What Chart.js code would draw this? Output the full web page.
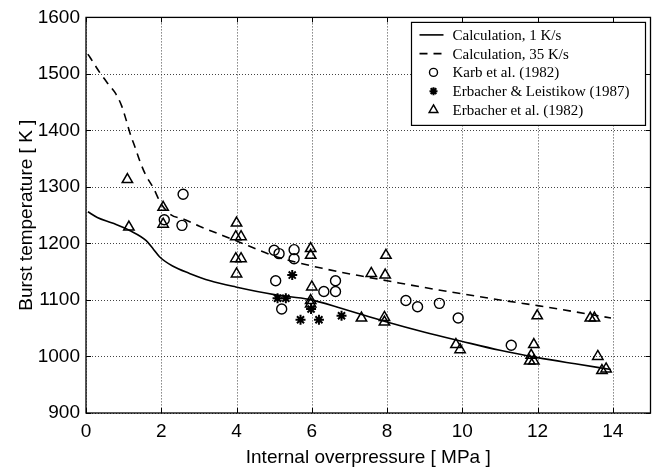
<!DOCTYPE html>
<html>
<head>
<meta charset="utf-8">
<script src="https://cdn.jsdelivr.net/npm/chart.js@4.4.1/dist/chart.umd.min.js"></script>
<style>
  html, body { margin: 0; padding: 0; background: #fff; }
</style>
</head>
<body>
<canvas id="myChart" width="658" height="470"></canvas>
<script>
// calculated curves
const calc1P  = [0.05, 0.3, 0.7, 1.16, 1.6, 1.8, 1.96, 2.3, 2.75, 3.3, 3.98, 5.04, 5.92, 6.8, 7.95, 9.0, 9.98, 11.0, 12.0, 13.0, 13.95];
const calc1T  = [1256, 1246, 1236, 1223, 1205, 1189, 1176, 1160, 1147, 1134, 1123, 1109, 1101, 1085, 1062, 1043, 1027, 1011, 998, 987, 977];
const calc35P = [0.05, 0.1, 0.37, 0.58, 0.79, 0.95, 1.06, 1.17, 1.31, 1.43, 1.58, 1.8, 1.98, 2.25, 2.6, 3.0, 3.98, 4.95, 5.4, 6.28, 7.42, 8.0, 9.0, 9.98, 11.0, 12.0, 13.0, 13.95];
const calc35T = [1535, 1530, 1502, 1483, 1465, 1443, 1420, 1395, 1369, 1346, 1322, 1297, 1272, 1251, 1243, 1231, 1205, 1179, 1170, 1156, 1141, 1134, 1122, 1111, 1100, 1090, 1079, 1068];

// experiments
const karbP = [2.08, 2.55, 2.58, 5.0, 5.13, 5.53, 5.53, 5.04, 5.2, 6.32, 6.63, 6.63, 8.5, 8.81, 9.39, 9.89, 11.3];
const karbT = [1242, 1232, 1287, 1188, 1182, 1189, 1173, 1134, 1084, 1115, 1134, 1115, 1099, 1088, 1094, 1068, 1020];

const leistP = [5.48, 5.09, 5.31, 5.98, 5.7, 6.19, 6.79];
const leistT = [1144, 1103, 1103, 1084, 1065, 1065, 1072];

const erbP = [1.1, 1.14, 2.05, 2.05, 4.0, 3.98, 4.12, 3.98, 4.12, 4.0, 5.97, 5.97, 6.0, 5.97, 5.97,
              7.32, 7.58, 7.95, 7.97, 7.93, 7.93, 9.83, 9.94, 11.99, 11.9, 11.83, 11.79, 11.9,
              13.4, 13.51, 13.6, 13.71, 13.82];
const erbT = [1313, 1229, 1264, 1234, 1236, 1212, 1212, 1173, 1173, 1146, 1191, 1179, 1123, 1099, 1093,
              1068, 1147, 1144, 1179, 1069, 1061, 1021, 1012, 1072, 1021, 1002, 992, 992,
              1068, 1068, 1000, 975, 978];

const xTicks = [0, 2, 4, 6, 8, 10, 12, 14];
const yTicks = [900, 1000, 1100, 1200, 1300, 1400, 1500, 1600];

const pts = (xs, ys) => xs.map((x, i) => ({ x: x, y: ys[i] }));

// dotted grid, frame with inner tick marks
const frame = {
  id: 'frame',
  beforeDatasetsDraw(chart) {
    const { ctx, chartArea: a, scales } = chart;
    ctx.save();
    // dotted grid
    ctx.strokeStyle = '#444';
    ctx.lineWidth = 1;
    ctx.setLineDash([1, 2]);
    ctx.beginPath();
    xTicks.forEach(v => {
      const x = Math.round(scales.x.getPixelForValue(v)) + 0.5;
      ctx.moveTo(x, a.top); ctx.lineTo(x, a.bottom);
    });
    yTicks.forEach(v => {
      const y = Math.round(scales.y.getPixelForValue(v)) + 0.5;
      ctx.moveTo(a.left, y); ctx.lineTo(a.right, y);
    });
    ctx.stroke();
    ctx.setLineDash([]);
    // tick marks
    ctx.strokeStyle = '#000';
    ctx.beginPath();
    xTicks.forEach(v => {
      const x = Math.round(scales.x.getPixelForValue(v)) + 0.5;
      ctx.moveTo(x, a.bottom); ctx.lineTo(x, a.bottom - 5);
      ctx.moveTo(x, a.top); ctx.lineTo(x, a.top + 5);
    });
    yTicks.forEach(v => {
      const y = Math.round(scales.y.getPixelForValue(v)) + 0.5;
      ctx.moveTo(a.left, y); ctx.lineTo(a.left + 5, y);
      ctx.moveTo(a.right, y); ctx.lineTo(a.right - 5, y);
    });
    ctx.stroke();
    ctx.lineWidth = 1.3;
    ctx.strokeRect(a.left, a.top, a.right - a.left, a.bottom - a.top);
    ctx.restore();
  }
};

// legend box inside the plot, top right
const legendBox = {
  id: 'legendBox',
  afterDraw(chart) {
    const { ctx, chartArea } = chart;
    const w = 234, h = 103;
    const x0 = chartArea.right - w - 5, y0 = chartArea.top + 5;
    ctx.save();
    ctx.fillStyle = '#fff';
    ctx.fillRect(x0, y0, w, h);
    ctx.strokeStyle = '#000';
    ctx.lineWidth = 1.2;
    ctx.strokeRect(x0, y0, w, h);
    ctx.font = '15px "Liberation Serif", serif';
    ctx.textBaseline = 'middle';
    chart.data.datasets.forEach((ds, i) => {
      const cy = y0 + 12.5 + i * 18.75;
      const cx = x0 + 20;
      ctx.strokeStyle = '#000';
      if (ds.showLine) {
        ctx.lineWidth = ds.borderWidth;
        ctx.setLineDash(ds.borderDash || []);
        ctx.beginPath();
        ctx.moveTo(cx - 12, cy);
        ctx.lineTo(cx + 12, cy);
        ctx.stroke();
        ctx.setLineDash([]);
      } else {
        ctx.fillStyle = 'rgba(0,0,0,0)';
        ctx.lineWidth = ds.borderWidth;
        Chart.helpers.drawPoint(ctx, { pointStyle: ds.pointStyle, radius: ds.pointRadius - 1, borderWidth: ds.borderWidth, rotation: 0 }, cx + 2, cy);
      }
      ctx.fillStyle = '#000';
      ctx.fillText(ds.label, x0 + 41, cy + 1);
    });
    ctx.restore();
  }
};

const ctx = document.getElementById('myChart').getContext('2d');

const data = {
  datasets: [
    {
      label: 'Calculation, 1 K/s',
      data: pts(calc1P, calc1T),
      showLine: true,
      borderColor: '#000',
      borderWidth: 1.6,
      pointRadius: 0,
      cubicInterpolationMode: 'monotone',
    },
    {
      label: 'Calculation, 35 K/s',
      data: pts(calc35P, calc35T),
      showLine: true,
      borderColor: '#000',
      borderWidth: 1.6,
      borderDash: [8, 6],
      pointRadius: 0,
      cubicInterpolationMode: 'monotone',
    },
    {
      label: 'Karb et al. (1982)',
      data: pts(karbP, karbT),
      showLine: false,
      pointStyle: 'circle',
      pointRadius: 5,
      borderColor: '#000',
      backgroundColor: 'rgba(0,0,0,0)',
      borderWidth: 1.4,
    },
    {
      label: 'Erbacher & Leistikow (1987)',
      data: pts(leistP, leistT),
      showLine: false,
      pointStyle: 'star',
      pointRadius: 5,
      borderColor: '#000',
      backgroundColor: '#000',
      borderWidth: 2,
    },
    {
      label: 'Erbacher et al. (1982)',
      data: pts(erbP, erbT),
      showLine: false,
      pointStyle: 'triangle',
      pointRadius: 6,
      borderColor: '#000',
      backgroundColor: 'rgba(0,0,0,0)',
      borderWidth: 1.5,
    },
  ],
};

const tickFont = { family: '"Liberation Sans", Arial, sans-serif', size: 19 };

const config = {
  type: 'scatter',
  data: data,
  plugins: [frame, legendBox],
  options: {
    responsive: false,
    animation: false,
    layout: { padding: { left: 0, right: 5, top: 15, bottom: 0 } },
    plugins: { legend: { display: false }, tooltip: { enabled: false } },
    scales: {
      x: {
        type: 'linear',
        min: 0,
        max: 15,
        afterFit: (scale) => { scale.height = 57; },
        afterBuildTicks: (scale) => { scale.ticks = xTicks.map(v => ({ value: v })); },
        ticks: { font: tickFont, color: '#000', padding: 7, callback: (v) => String(v) },
        grid: { display: false, drawTicks: false },
        border: { display: false },
        title: { display: true, text: 'Internal overpressure [ MPa ]', font: tickFont, color: '#000', padding: { top: 0, bottom: 1 } },
      },
      y: {
        type: 'linear',
        min: 900,
        max: 1600,
        afterFit: (scale) => { scale.width = 86; },
        afterBuildTicks: (scale) => { scale.ticks = yTicks.map(v => ({ value: v })); },
        ticks: { font: tickFont, color: '#000', padding: 6, callback: (v) => String(v) },
        grid: { display: false, drawTicks: false },
        border: { display: false },
        title: { display: true, text: 'Burst temperature [ K ]', font: tickFont, color: '#000', padding: { top: 15, bottom: 0 } },
      },
    },
  },
};

let chartStatus = Chart.getChart('myChart');
if (chartStatus != undefined) {
  chartStatus.destroy();
}
const myChart = new Chart(ctx, config);
</script>
</body>
</html>
